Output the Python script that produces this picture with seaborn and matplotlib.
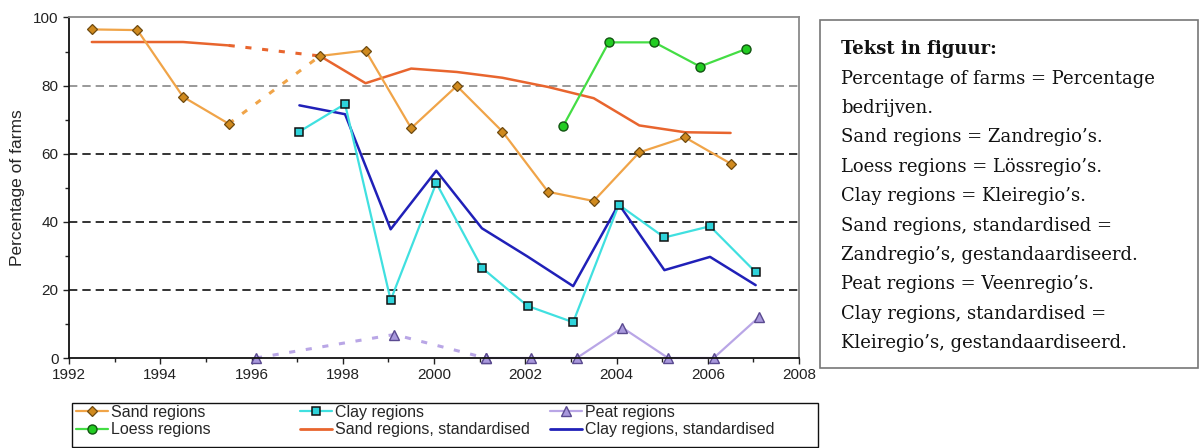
import matplotlib
matplotlib.use("Agg")
import matplotlib.pyplot as plt
from matplotlib.lines import Line2D
from matplotlib.patches import Rectangle
import seaborn as sns
import pandas as pd

# values (x positions as plotted)
sand_x = [1992.5, 1993.5, 1994.5, 1995.5, 1997.5, 1998.5, 1999.5, 2000.5,
          2001.5, 2002.5, 2003.5, 2004.5, 2005.5, 2006.5]
sand_y = [96.5, 96.3, 76.7, 68.8, 88.7, 90.3, 67.5, 79.9, 66.5, 48.8, 46.1,
          60.4, 64.8, 57.1]
sand_std_y = [92.8, 92.8, 92.8, 91.8, 88.7, 80.7, 85.0, 84.0, 82.3, 79.6,
              76.3, 68.3, 66.3, 66.1]
sand_gap = 4  # line between index 3 and 4 is dotted (1996 missing)

clay_x = [1997.05, 1998.05, 1999.05, 2000.05, 2001.05, 2002.05, 2003.05,
          2004.05, 2005.05, 2006.05, 2007.05]
clay_y = [66.5, 74.6, 17.0, 51.4, 26.5, 15.3, 10.5, 45.0, 35.4, 38.7, 25.2]
clay_std_y = [74.2, 71.6, 37.8, 55.0, 38.1, 29.8, 21.1, 45.2, 25.8, 29.7, 21.4]

loess_x = [2002.83, 2003.83, 2004.83, 2005.83, 2006.83]
loess_y = [68.1, 92.7, 92.7, 85.6, 90.7]

peat_x = [1996.1, 1999.13, 2001.13, 2002.13, 2003.13, 2004.13, 2005.13,
          2006.13, 2007.13]
peat_y = [0, 6.9, 0, 0, 0, 8.9, 0, 0, 12.1]
peat_solid_from = 2

c_sand = "#F0A448"
c_sand_std = "#E8652E"
c_clay = "#40E0E0"
c_clay_std = "#2020B8"
c_loess = "#44DD44"
c_peat = "#B9A6E6"

sns.set_style("white")
plt.rcParams["font.family"] = ["Liberation Sans", "DejaVu Sans"]

fig = plt.figure(figsize=(12.02, 4.48), dpi=100)
ax = fig.add_axes([69 / 1202, 1 - 358 / 448, 730 / 1202, 340.5 / 448])


def line(x, y, color, ls="-", lw=1.6, **kw):
    df = pd.DataFrame({"x": x, "y": y})
    sns.lineplot(data=df, x="x", y="y", ax=ax, color=color, linestyle=ls,
                 linewidth=lw, sort=False, clip_on=False, **kw)


mk_sand = dict(marker="D", markersize=5.5, markerfacecolor="#D08A1E",
               markeredgecolor="#6E4A10", markeredgewidth=0.9)
mk_clay = dict(marker="s", markersize=6.2, markerfacecolor="#2ED3DA",
               markeredgecolor="#111111", markeredgewidth=1.1)
mk_loess = dict(marker="o", markersize=6.5, markerfacecolor="#22CC22",
                markeredgecolor="#115511", markeredgewidth=1)
mk_peat = dict(marker="^", markersize=6.5, markerfacecolor="#A898DC",
               markeredgecolor="#5A4A90", markeredgewidth=1)
dotted = (0, (2, 3.5))

# sand regions, standardised
line(sand_x[:sand_gap], sand_std_y[:sand_gap], c_sand_std, lw=1.8)
line(sand_x[sand_gap - 1:sand_gap + 1], sand_std_y[sand_gap - 1:sand_gap + 1],
     c_sand_std, ls=dotted, lw=2.2)
line(sand_x[sand_gap:], sand_std_y[sand_gap:], c_sand_std, lw=1.8)

# clay regions, standardised
line(clay_x, clay_std_y, c_clay_std, lw=1.8)

# clay regions
line(clay_x, clay_y, c_clay, **mk_clay)

# loess regions
line(loess_x, loess_y, c_loess, **mk_loess)

# sand regions
line(sand_x[sand_gap - 1:sand_gap + 1], sand_y[sand_gap - 1:sand_gap + 1],
     c_sand, ls=dotted, lw=2.2)
line(sand_x[:sand_gap], sand_y[:sand_gap], c_sand, **mk_sand)
line(sand_x[sand_gap:], sand_y[sand_gap:], c_sand, **mk_sand)

# peat regions
line(peat_x[:peat_solid_from + 1], peat_y[:peat_solid_from + 1], c_peat,
     ls=dotted, lw=2.2)
line(peat_x[:peat_solid_from + 1], peat_y[:peat_solid_from + 1], c_peat,
     ls="none", **mk_peat)
line(peat_x[peat_solid_from:], peat_y[peat_solid_from:], c_peat, **mk_peat)

leg = ax.get_legend()
if leg is not None:
    leg.remove()

# gridlines
for yv in [20, 40, 60]:
    ax.axhline(yv, color="#111111", lw=1.2, ls=(0, (5, 3)), zorder=0)
ax.axhline(80, color="#888888", lw=1.2, ls=(0, (5, 3)), zorder=0)

ax.set_xlim(1992, 2008)
ax.set_ylim(0, 100)
ax.set_xticks(range(1992, 2009, 2))
ax.set_xticks(range(1992, 2009, 1), minor=True)
ax.set_yticks(range(0, 101, 20))
ax.set_yticks(range(0, 101, 10), minor=True)
ax.tick_params(axis="both", which="both", direction="out", labelsize=11,
               colors="#222222", length=4, width=1, bottom=True, left=True)
ax.tick_params(axis="both", which="minor", length=3)
ax.set_xlabel("")
ax.set_ylabel("Percentage of farms", fontsize=12.5, labelpad=6)
for s in ["left", "bottom"]:
    ax.spines[s].set_color("#111111")
    ax.spines[s].set_linewidth(1.3)
for s in ["top", "right"]:
    ax.spines[s].set_color("#8a8a8a")
    ax.spines[s].set_linewidth(1.3)

# legend under the plot: three columns placed like the reference
fig.patches.append(Rectangle((72 / 1202, 1 / 448), 746 / 1202, 44 / 448,
                             transform=fig.transFigure, fill=False,
                             edgecolor="#111111", lw=1))
columns = [
    (76, [Line2D([], [], color=c_sand, lw=1.6, **mk_sand),
          Line2D([], [], color=c_loess, lw=1.6, **mk_loess)],
     ["Sand regions", "Loess regions"]),
    (300, [Line2D([], [], color=c_clay, lw=1.6, **mk_clay),
           Line2D([], [], color=c_sand_std, lw=2)],
     ["Clay regions", "Sand regions, standardised"]),
    (550, [Line2D([], [], color=c_peat, lw=1.6, **mk_peat),
           Line2D([], [], color=c_clay_std, lw=2)],
     ["Peat regions", "Clay regions, standardised"]),
]
for x0, hs, ls_ in columns:
    fig.legend(hs, ls_, loc="upper left",
               bbox_to_anchor=(x0 / 1202, 1 - 405 / 448), fontsize=11.5,
               frameon=False, handlelength=2.0, handletextpad=0.2,
               borderpad=0, labelspacing=0.15, borderaxespad=0)

# translation box on the right
fig.patches.append(Rectangle((820 / 1202, 1 - 368 / 448), 378 / 1202,
                             348 / 448, transform=fig.transFigure,
                             fill=False, edgecolor="#777777", lw=1.2))
box_lines = [
    "Percentage of farms = Percentage",
    "bedrijven.",
    "Sand regions = Zandregio’s.",
    "Loess regions = Lössregio’s.",
    "Clay regions = Kleiregio’s.",
    "Sand regions, standardised =",
    "Zandregio’s, gestandaardiseerd.",
    "Peat regions = Veenregio’s.",
    "Clay regions, standardised =",
    "Kleiregio’s, gestandaardiseerd.",
]
serif = ["DejaVu Serif"]
fig.text(841 / 1202, 1 - 49 / 448, "Tekst in figuur:", family=serif,
         fontsize=13, fontweight="bold", va="center", color="#111111")
for i, t in enumerate(box_lines):
    fig.text(841 / 1202, 1 - (78.5 + 29.4 * i) / 448, t, family=serif,
             fontsize=13, va="center", color="#111111")

fig.savefig("out.png", dpi=100)
